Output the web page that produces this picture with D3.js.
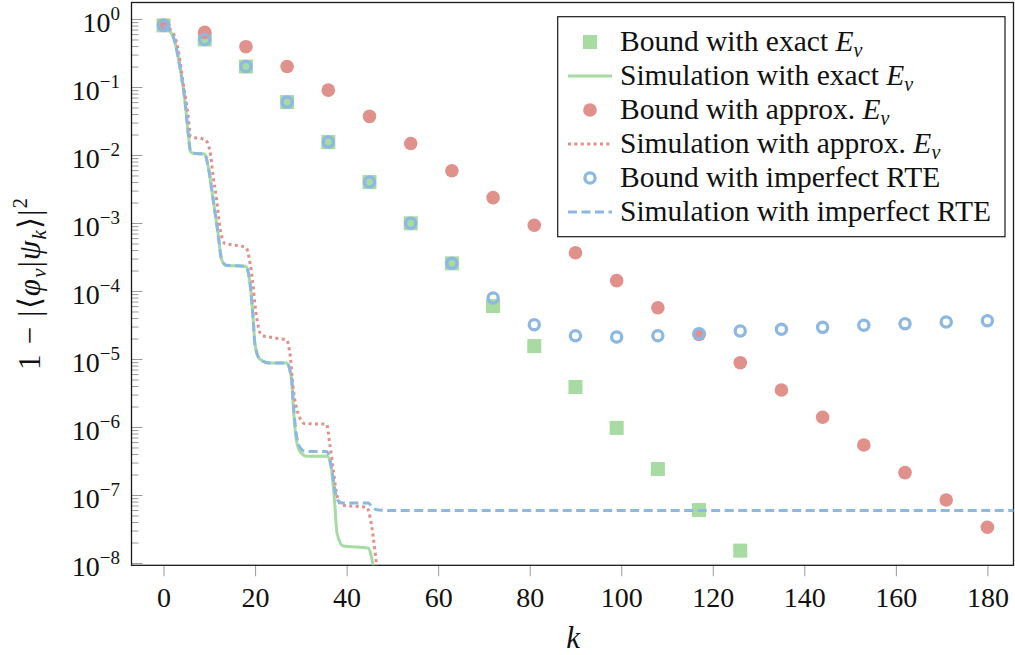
<!DOCTYPE html>
<html>
<head>
<meta charset="utf-8">
<script src="https://cdn.jsdelivr.net/npm/d3@7"></script>
<style>
  body { margin: 0; background: #fff; }
  svg { display: block; font-family: "Liberation Serif", "Times New Roman", serif; }
</style>
</head>
<body>
<svg id="chart" width="1015" height="655"></svg>
<script>
// Iteration index k at which the bounds are evaluated
const boundK = [0, 9, 18, 27, 36, 45, 54, 63, 72, 81, 90, 99, 108, 117, 126, 135, 144, 153, 162, 171, 180];

// Infidelity bounds 1 - |<phi|psi_k>|^2
const boundExact = [0.807, 0.50, 0.20, 0.060, 0.0155, 0.0040, 9.9e-4, 2.55e-4, 6.0e-5, 1.55e-5,
                    3.87e-6, 9.7e-7, 2.41e-7, 6.0e-8, 1.52e-8];
const boundApprox = [0.807, 0.637, 0.392, 0.20, 0.090, 0.037, 0.0148, 0.00588, 0.00236, 9.25e-4,
                     3.66e-4, 1.42e-4, 5.68e-5, 2.30e-5, 8.83e-6, 3.50e-6, 1.39e-6, 5.43e-7, 2.13e-7,
                     8.44e-8, 3.35e-8];
const boundImperfect = [0.807, 0.50, 0.20, 0.060, 0.0155, 0.0040, 9.9e-4, 2.55e-4, 7.9e-5, 3.2e-5,
                        2.20e-5, 2.11e-5, 2.20e-5, 2.36e-5, 2.58e-5, 2.73e-5, 2.92e-5, 3.13e-5,
                        3.31e-5, 3.50e-5, 3.66e-5];

// Simulated infidelity, [k, value]
const simExact = [
  [0, 0.807], [2.1, 0.55], [3.56, 0.20], [4.65, 0.0646], [5.4, 0.0209], [5.9, 0.0112],
  [6.5, 0.0106], [9.0, 0.01035], [9.75, 0.00676], [10.85, 0.00219], [11.9, 7.08e-4],
  [12.7, 2.88e-4], [13.6, 2.40e-4], [18.0, 2.29e-4], [18.9, 1.29e-4], [19.6, 3.72e-5],
  [19.95, 1.70e-5], [21.0, 1.0e-5], [23.2, 8.7e-6], [26.9, 8.7e-6], [28.0, 4.9e-6],
  [28.3, 2.24e-6], [28.9, 7.24e-7], [29.8, 4.37e-7], [31.2, 3.72e-7], [35.8, 3.72e-7],
  [36.7, 2.34e-7], [37.4, 7.6e-8], [37.9, 2.75e-8], [39.25, 1.78e-8], [44.7, 1.66e-8],
  [45.8, 9.3e-9], [46.5, 5e-9]
];
const simApprox = [
  [0, 0.807], [2.1, 0.617], [3.2, 0.35], [4.3, 0.113], [5.4, 0.0363], [5.9, 0.0186],
  [6.85, 0.0180], [9.0, 0.0170], [10.1, 0.01175], [10.85, 0.00479], [11.6, 0.00219],
  [12.3, 8.9e-4], [13.4, 5.0e-4], [16.0, 4.68e-4], [18.0, 4.37e-4], [18.9, 2.57e-4],
  [19.6, 1.15e-4], [19.95, 6.6e-5], [20.7, 3.0e-5], [21.4, 2.24e-5], [24.3, 2.04e-5],
  [26.9, 1.9e-5], [27.7, 1.07e-5], [28.3, 3.9e-6], [29.4, 1.58e-6], [30.9, 1.12e-6],
  [35.6, 1.10e-6], [36.3, 5.75e-7], [37.1, 2.34e-7], [37.8, 1.05e-7], [38.9, 7.1e-8],
  [44.4, 6.6e-8], [45.1, 4.8e-8], [45.8, 2.45e-8], [46.5, 1.0e-8], [47.2, 4e-9]
];
const simImperfect = [
  [0, 0.807], [2.1, 0.55], [3.56, 0.20], [4.65, 0.0646], [5.4, 0.0209], [5.9, 0.0112],
  [6.5, 0.0106], [9.0, 0.01035], [9.75, 0.00676], [10.85, 0.00219], [11.9, 7.08e-4],
  [12.7, 2.88e-4], [13.6, 2.40e-4], [18.0, 2.29e-4], [18.9, 1.29e-4], [19.6, 3.72e-5],
  [19.95, 1.70e-5], [21.0, 1.0e-5], [23.2, 8.7e-6], [26.9, 8.7e-6], [28.0, 4.9e-6],
  [28.3, 2.5e-6], [28.9, 8.9e-7], [29.8, 5.0e-7], [31.0, 4.37e-7], [35.6, 4.37e-7],
  [36.9, 2.09e-7], [37.3, 1.32e-7], [38.0, 8.5e-8], [39.1, 7.6e-8], [44.7, 7.6e-8],
  [45.8, 6.37e-8], [47.0, 6.0e-8], [52.0, 5.9e-8], [190, 5.9e-8]
];

const xTickValues = [0, 20, 40, 60, 80, 100, 120, 140, 160, 180];
const yTickExponents = [0, -1, -2, -3, -4, -5, -6, -7, -8];
const legendLabels = [
  ["Bound with exact ", true],
  ["Simulation with exact ", true],
  ["Bound with approx. ", true],
  ["Simulation with approx. ", true],
  ["Bound with imperfect RTE", false],
  ["Simulation with imperfect RTE", false]
];

const colGreen = "#a8dba1";
const colRed = "#e0918c";
const colBlue = "#8db8e1";

const plot = { left: 131.5, right: 1013.5, top: 2.5, bottom: 565.3 };
const svg = d3.select("#chart");

const x = d3.scaleLinear().domain([-7, 185.7]).range([plot.left, plot.right]);
const y = d3.scaleLog().domain([Math.pow(10, -8.034), Math.pow(10, 0.243)]).range([plot.bottom, plot.top]);

svg.append("defs").append("clipPath").attr("id", "plotClip")
  .append("rect")
  .attr("x", plot.left).attr("y", plot.top)
  .attr("width", plot.right - plot.left).attr("height", plot.bottom - plot.top);

// y axis: major and minor ticks pointing into the plot
const yMajor = yTickExponents.map(e => Math.pow(10, e));
const yMinor = [];
yTickExponents.forEach(e => {
  for (let m = 2; m <= 9; m++) {
    const v = m * Math.pow(10, e);
    if (v <= y.domain()[1] && v >= y.domain()[0]) yMinor.push(v);
  }
});
const yMinorG = svg.append("g").attr("transform", `translate(${plot.left},0)`)
  .call(d3.axisLeft(y).tickValues(yMinor).tickSizeInner(-7).tickSizeOuter(0).tickFormat(""));
const yMajorG = svg.append("g").attr("transform", `translate(${plot.left},0)`)
  .call(d3.axisLeft(y).tickValues(yMajor).tickSizeInner(-11).tickSizeOuter(0).tickFormat(""));
[yMinorG, yMajorG].forEach(g => {
  g.select(".domain").remove();
  g.selectAll(".tick line").attr("stroke", "#9a9a9a").attr("stroke-width", 1);
});

// y tick labels 10^n
const yLab = svg.append("g");
yTickExponents.forEach(e => {
  const t = yLab.append("text")
    .attr("x", 120).attr("y", y(Math.pow(10, e)) + 13)
    .attr("text-anchor", "end").attr("font-size", 28).attr("fill", "#111");
  t.append("tspan").text("10");
  t.append("tspan").attr("dy", -12).attr("font-size", 19)
    .text(e === 0 ? "0" : "\u2212" + Math.abs(e));
});

// x axis: ticks below the plot
const xAxisG = svg.append("g").attr("transform", `translate(0,${plot.bottom})`)
  .call(d3.axisBottom(x).tickValues(xTickValues).tickSizeInner(11).tickSizeOuter(0).tickPadding(11));
xAxisG.select(".domain").remove();
xAxisG.selectAll(".tick line").attr("stroke", "#9a9a9a").attr("stroke-width", 1);
xAxisG.selectAll(".tick text")
  .attr("font-family", "Liberation Serif, serif").attr("font-size", 28).attr("fill", "#111");

// frame
svg.append("rect")
  .attr("x", plot.left).attr("y", plot.top)
  .attr("width", plot.right - plot.left).attr("height", plot.bottom - plot.top)
  .attr("fill", "none").attr("stroke", "#1a1a1a").attr("stroke-width", 1.3);

// axis titles
svg.append("text")
  .attr("x", x(89.5)).attr("y", 648)
  .attr("text-anchor", "middle").attr("font-size", 31).attr("font-style", "italic").attr("fill", "#111")
  .text("k");

const yTitle = svg.append("text")
  .attr("transform", `translate(39.5,${(plot.top + plot.bottom) / 2}) rotate(-90)`)
  .attr("text-anchor", "middle").attr("font-size", 31).attr("fill", "#111")
  .attr("textLength", 172).attr("lengthAdjust", "spacing");
yTitle.append("tspan").text("1 \u2212 |\u27E8");
yTitle.append("tspan").attr("font-style", "italic").text("\u03C6");
yTitle.append("tspan").attr("font-style", "italic").attr("font-size", 21).attr("dy", 6).text("\u03BD");
yTitle.append("tspan").attr("dy", -6).text("|");
yTitle.append("tspan").attr("font-style", "italic").text("\u03C8");
yTitle.append("tspan").attr("font-style", "italic").attr("font-size", 21).attr("dy", 6).text("k");
yTitle.append("tspan").attr("dy", -6).text("\u27E9|");
yTitle.append("tspan").attr("font-size", 21).attr("dy", -13).text("2");

// series
const line = d3.line().x(d => x(d[0])).y(d => y(d[1])).curve(d3.curveMonotoneX);
const clipped = () => svg.append("g").attr("clip-path", "url(#plotClip)");

const sq = 14, rDot = 6.8, rRing = 5.1;

svg.append("g").selectAll("rect").data(boundExact).join("rect")
  .attr("x", (d, i) => x(boundK[i]) - sq / 2).attr("y", d => y(d) - sq / 2)
  .attr("width", sq).attr("height", sq).attr("fill", colGreen);
clipped().append("path").datum(simExact).attr("d", line)
  .attr("fill", "none").attr("stroke", colGreen).attr("stroke-width", 3);

svg.append("g").selectAll("circle").data(boundApprox).join("circle")
  .attr("cx", (d, i) => x(boundK[i])).attr("cy", d => y(d)).attr("r", rDot).attr("fill", colRed);
clipped().append("path").datum(simApprox).attr("d", line)
  .attr("fill", "none").attr("stroke", colRed).attr("stroke-width", 3).attr("stroke-dasharray", "3,3.4");

svg.append("g").selectAll("circle").data(boundImperfect).join("circle")
  .attr("cx", (d, i) => x(boundK[i])).attr("cy", d => y(d)).attr("r", rRing)
  .attr("fill", "none").attr("stroke", colBlue).attr("stroke-width", 3.3);
clipped().append("path").datum(simImperfect).attr("d", line)
  .attr("fill", "none").attr("stroke", colBlue).attr("stroke-width", 3).attr("stroke-dasharray", "9,4.5");

// legend
const lg = svg.append("g");
lg.append("rect").attr("x", 557.7).attr("y", 16.7).attr("width", 1005 - 557.7).attr("height", 236.7 - 16.7)
  .attr("fill", "#fff").attr("stroke", "#1a1a1a").attr("stroke-width", 1.2);
const rowY = i => 42 + i * 34;
const symX = 590;
lg.append("rect").attr("x", symX - sq / 2).attr("y", rowY(0) - sq / 2).attr("width", sq).attr("height", sq).attr("fill", colGreen);
lg.append("line").attr("x1", 568).attr("x2", 612).attr("y1", rowY(1)).attr("y2", rowY(1))
  .attr("stroke", colGreen).attr("stroke-width", 3);
lg.append("circle").attr("cx", symX).attr("cy", rowY(2)).attr("r", rDot).attr("fill", colRed);
lg.append("line").attr("x1", 568).attr("x2", 612).attr("y1", rowY(3)).attr("y2", rowY(3))
  .attr("stroke", colRed).attr("stroke-width", 3).attr("stroke-dasharray", "3,3.4");
lg.append("circle").attr("cx", symX).attr("cy", rowY(4)).attr("r", rRing)
  .attr("fill", "none").attr("stroke", colBlue).attr("stroke-width", 3.3);
lg.append("line").attr("x1", 568).attr("x2", 612).attr("y1", rowY(5)).attr("y2", rowY(5))
  .attr("stroke", colBlue).attr("stroke-width", 3).attr("stroke-dasharray", "9,4.5");

legendLabels.forEach(([label, withE], i) => {
  const t = lg.append("text").attr("x", 620).attr("y", rowY(i) + 8.5)
    .attr("font-size", 29.5).attr("fill", "#111");
  t.append("tspan").text(label);
  if (withE) {
    t.append("tspan").attr("font-style", "italic").text("E");
    t.append("tspan").attr("font-style", "italic").attr("font-size", 20).attr("dy", 6).text("\u03BD");
  }
});
</script>
</body>
</html>
